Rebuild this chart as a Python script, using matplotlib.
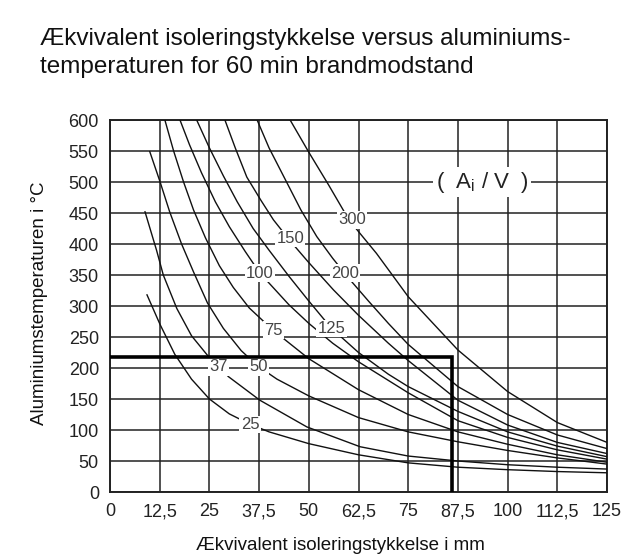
import matplotlib
matplotlib.use("Agg")
import matplotlib.pyplot as plt

plt.rcParams['font.family'] = ['Liberation Sans', 'DejaVu Sans']

# curve values: thickness (mm) and aluminium temperature (C)
x_25 = [9.3, 12.6, 16.3, 20.5, 25, 30, 35, 40, 50, 62.5, 75, 87.5, 100, 112.5, 125]
t_25 = [318, 270, 222, 182, 150, 126, 110, 97, 78, 60, 47, 40, 36, 33, 31]

x_37 = [8.8, 11.7, 13.4, 16.8, 20.5, 24.7, 27.2, 29.8, 37.7, 49.5, 62.9, 75, 87.5, 100, 112.5, 125]
t_37 = [452, 390, 350, 296, 252, 219, 203, 186, 148, 105, 73, 58, 50, 44, 40, 37]

x_50 = [10, 12.6, 15, 18, 21, 24.5, 28.5, 33, 37.2, 42, 50, 62.5, 75, 87.5, 100, 112.5, 125]
t_50 = [549, 500, 452, 400, 355, 305, 264, 228, 203, 182, 155, 120, 97, 81, 67, 55, 45]

x_75 = [13.8, 16, 18.5, 21, 24, 27.5, 31, 35, 41, 50, 62.5, 75, 87.5, 100, 112.5, 125]
t_75 = [600, 550, 500, 455, 410, 365, 330, 297, 261, 215, 165, 125, 97, 77, 60, 48]

x_100 = [17.6, 20, 23, 26.5, 30, 34, 37.7, 41, 45, 50, 56, 62.5, 75, 87.5, 100, 112.5, 125]
t_100 = [600, 560, 515, 468, 428, 388, 353, 330, 302, 272, 240, 210, 160, 115, 88, 68, 53]

x_125 = [21.8, 25, 28.5, 32, 36, 40, 45, 50, 55.7, 62.5, 70, 75, 87.5, 100, 112.5, 125]
t_125 = [600, 555, 510, 468, 425, 390, 348, 308, 264, 225, 190, 170, 130, 97, 74, 57]

x_150 = [28.9, 31.5, 34.4, 38, 41.1, 45.3, 50, 56.2, 62.5, 70, 75, 87.5, 100, 112.5, 125]
t_150 = [600, 555, 508, 470, 439, 405, 370, 326, 285, 240, 212, 148, 108, 80, 62]

x_200 = [37, 40, 44, 48, 52, 56, 60, 65, 70, 75, 87.5, 100, 112.5, 125]
t_200 = [600, 555, 505, 455, 412, 377, 345, 308, 272, 238, 170, 125, 92, 70]

x_300 = [45.3, 50, 55, 60, 62.5, 67, 75, 87.5, 100, 112.5, 125]
t_300 = [600, 548, 495, 440, 420, 385, 315, 229, 162, 112, 80]

# curve labels (A_i/V) and where they sit on the curves
label_text = ['25', '37', '50', '75', '100', '125', '150', '200', '300']
label_x = [35.2, 27.2, 37.3, 41.1, 37.7, 55.7, 45.3, 59.1, 60.9]
label_t = [109, 202, 202, 261, 353, 264, 409, 353, 439]

# example reading (thick line)
ref_thickness = 86
ref_temp = 218

x_ticks = [0, 12.5, 25, 37.5, 50, 62.5, 75, 87.5, 100, 112.5, 125]
x_ticklabels = ['0', '12,5', '25', '37,5', '50', '62,5', '75', '87,5', '100', '112,5', '125']
y_ticks = [0, 50, 100, 150, 200, 250, 300, 350, 400, 450, 500, 550, 600]

fig = plt.figure(figsize=(6.23, 5.56), dpi=100)
ax = fig.add_axes([0.1766, 0.1151, 0.7978, 0.669])

curves = [(x_25, t_25), (x_37, t_37), (x_50, t_50), (x_75, t_75), (x_100, t_100),
          (x_125, t_125), (x_150, t_150), (x_200, t_200), (x_300, t_300)]
for xs, ts in curves:
    ax.plot(xs, ts, color='#111111', lw=1.0, zorder=3)

# labels break the curves with a white box
for txt, lx, lt in zip(label_text, label_x, label_t):
    ax.text(lx, lt, txt, ha='center', va='center', fontsize=12, color='#444444', zorder=4,
            bbox=dict(facecolor='white', edgecolor='none', pad=1.0))

ax.text(93.6, 500, r'(  A$_\mathregular{i}$ / V  )', ha='center', va='center', fontsize=16,
        color='#222222', zorder=4, bbox=dict(facecolor='white', edgecolor='none', pad=2.0))

# thick reading line
ax.plot([0, ref_thickness, ref_thickness], [ref_temp, ref_temp, 0], color='black', lw=2.6, zorder=5,
        solid_joinstyle='miter')

ax.set_xlim(0, 125)
ax.set_ylim(0, 600)
ax.set_xticks(x_ticks)
ax.set_xticklabels(x_ticklabels)
ax.set_yticks(y_ticks)
ax.tick_params(length=0, labelsize=13, pad=8, colors='#222222')
ax.grid(True, color='#222222', lw=1.1, zorder=1)
ax.set_axisbelow(True)
for sp in ax.spines.values():
    sp.set_linewidth(1.4)
    sp.set_color('#222222')

fig.text(0.064, 1 - 28 / 556, 'Ækvivalent isoleringstykkelse versus aluminiums-\ntemperaturen for 60 min brandmodstand',
         ha='left', va='top', fontsize=17.5, color='#111111', linespacing=1.35)
fig.text(340 / 623, 1 - 545 / 556, 'Ækvivalent isoleringstykkelse i mm', ha='center', va='center',
         fontsize=13.5, color='#111111')
fig.text(40 / 623, 1 - 303 / 556, 'Aluminiumstemperaturen i °C', ha='center', va='center',
         rotation=90, fontsize=13.5, color='#111111')

fig.savefig('out.png', dpi=100)
